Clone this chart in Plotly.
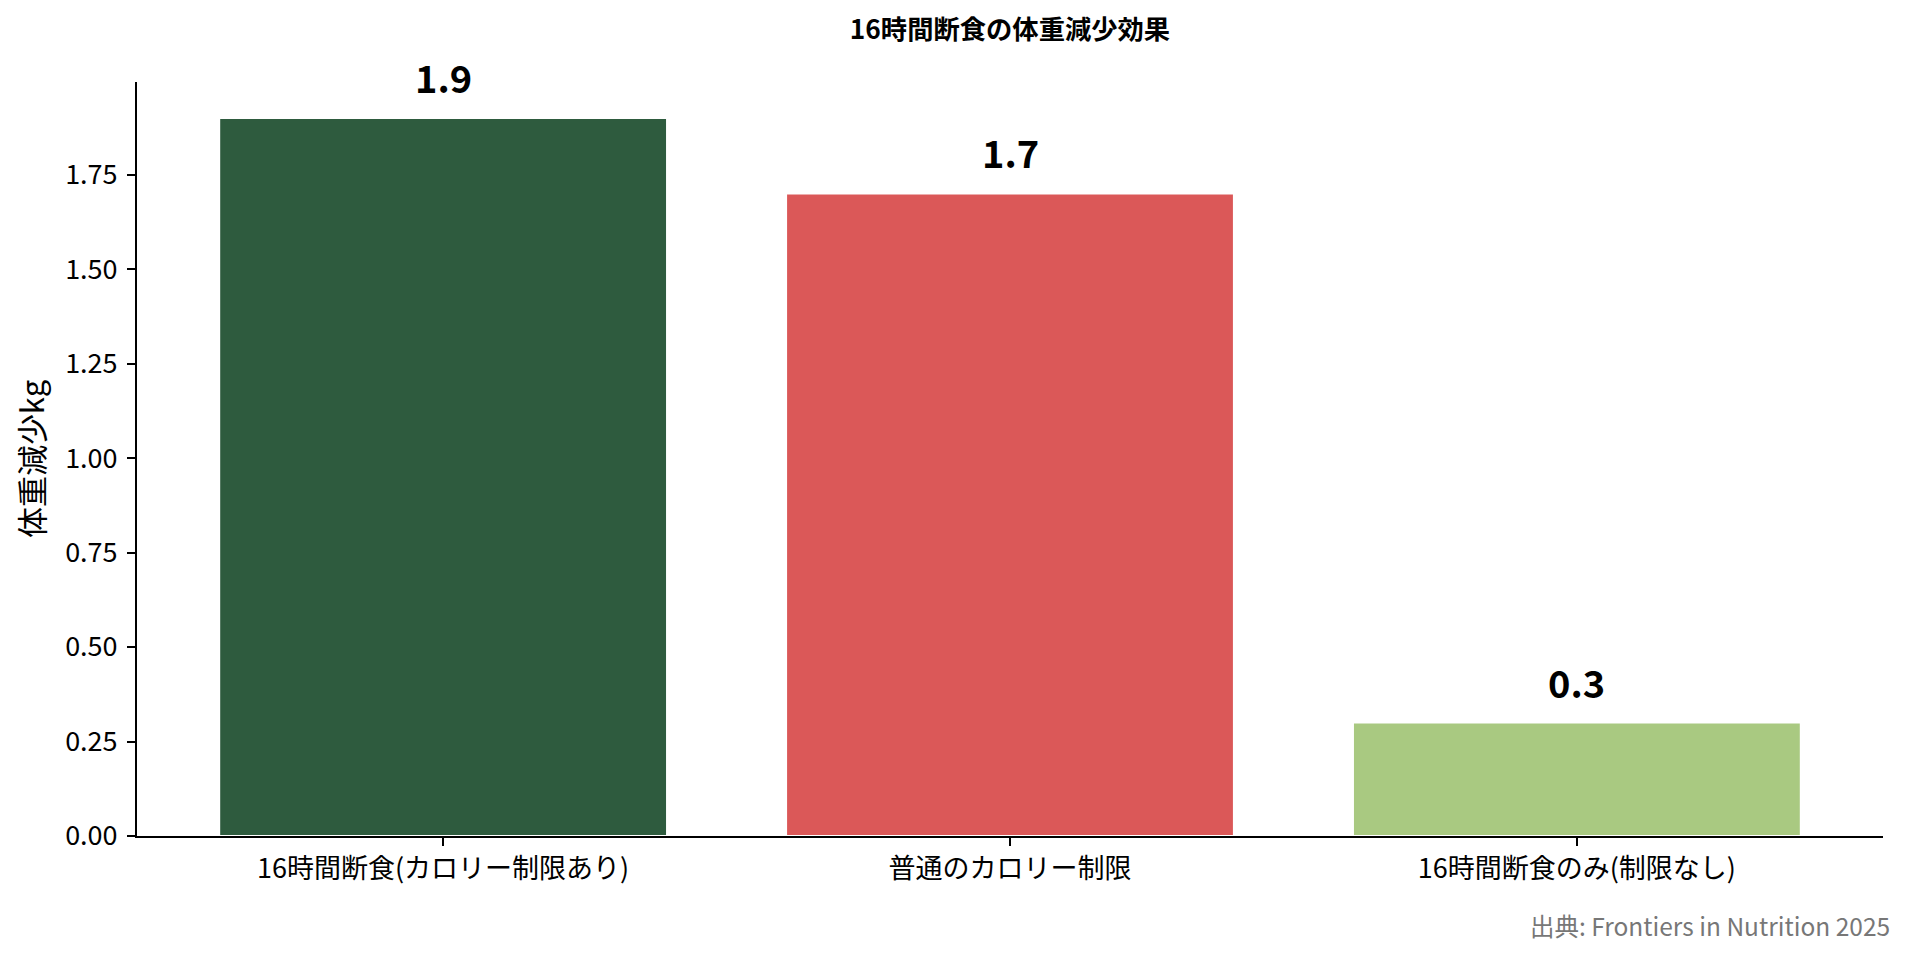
import plotly.graph_objects as go

# データ
categories = ["16時間断食(カロリー制限あり)", "普通のカロリー制限", "16時間断食のみ(制限なし)"]
weight_loss = [1.9, 1.7, 0.3]
bar_colors = ["#2e5b3e", "#db5858", "#a9c981"]
y_ticks = [0, 0.25, 0.5, 0.75, 1.0, 1.25, 1.5, 1.75]

FONT = "Noto Sans CJK JP"

fig = go.Figure()
fig.add_trace(go.Bar(
    x=list(range(len(categories))),
    y=weight_loss,
    marker=dict(color=bar_colors, line=dict(width=2, color="white")),
    width=0.79,
    hoverinfo="skip",
))

# 棒の上の数値ラベル
for i, v in enumerate(weight_loss):
    fig.add_annotation(
        x=i, y=v, text=f"<b>{v}</b>", showarrow=False,
        yanchor="bottom", yshift=12,
        font=dict(family=FONT, size=38, color="black"),
    )

# 出典
fig.add_annotation(
    xref="paper", yref="paper", x=1, y=-0.119, xshift=9,
    xanchor="right", yanchor="middle", showarrow=False,
    text="出典: Frontiers in Nutrition 2025",
    font=dict(family=FONT, size=24.5, color="#777777"),
)

# ページの余白(8px)を考慮してサイズを調整
fig.update_layout(
    width=1902, height=952,
    margin=dict(l=129, r=27, t=74, b=124),
    paper_bgcolor="white", plot_bgcolor="white",
    showlegend=False,
    font=dict(family=FONT, color="black"),
    title=dict(
        text="<b>16時間断食の体重減少効果</b>",
        x=(129 + 1875) / 2 / 1902, xanchor="center",
        y=1 - 22 / 952, yanchor="middle",
        font=dict(family=FONT, size=26.3, color="black"),
    ),
)

fig.update_xaxes(
    range=[-0.54, 2.54],
    tickmode="array", tickvals=list(range(len(categories))), ticktext=categories,
    showline=True, linecolor="black", linewidth=2,
    ticks="outside", ticklen=8, tickwidth=1.5, tickcolor="black",
    showgrid=False, zeroline=False,
    tickfont=dict(family=FONT, size=27, color="black"),
)
fig.update_yaxes(
    range=[0, 1.995],
    tickmode="array", tickvals=y_ticks, ticktext=[f"{t:.2f}" for t in y_ticks],
    showline=True, linecolor="black", linewidth=2,
    ticks="outside", ticklen=8, tickwidth=1.5, tickcolor="black",
    ticklabelstandoff=4,
    showgrid=False, zeroline=False,
    tickfont=dict(family=FONT, size=27, color="black"),
    title=dict(text="体重減少kg", font=dict(family=FONT, size=31, color="black"), standoff=12),
)

fig.write_html("out.html")
